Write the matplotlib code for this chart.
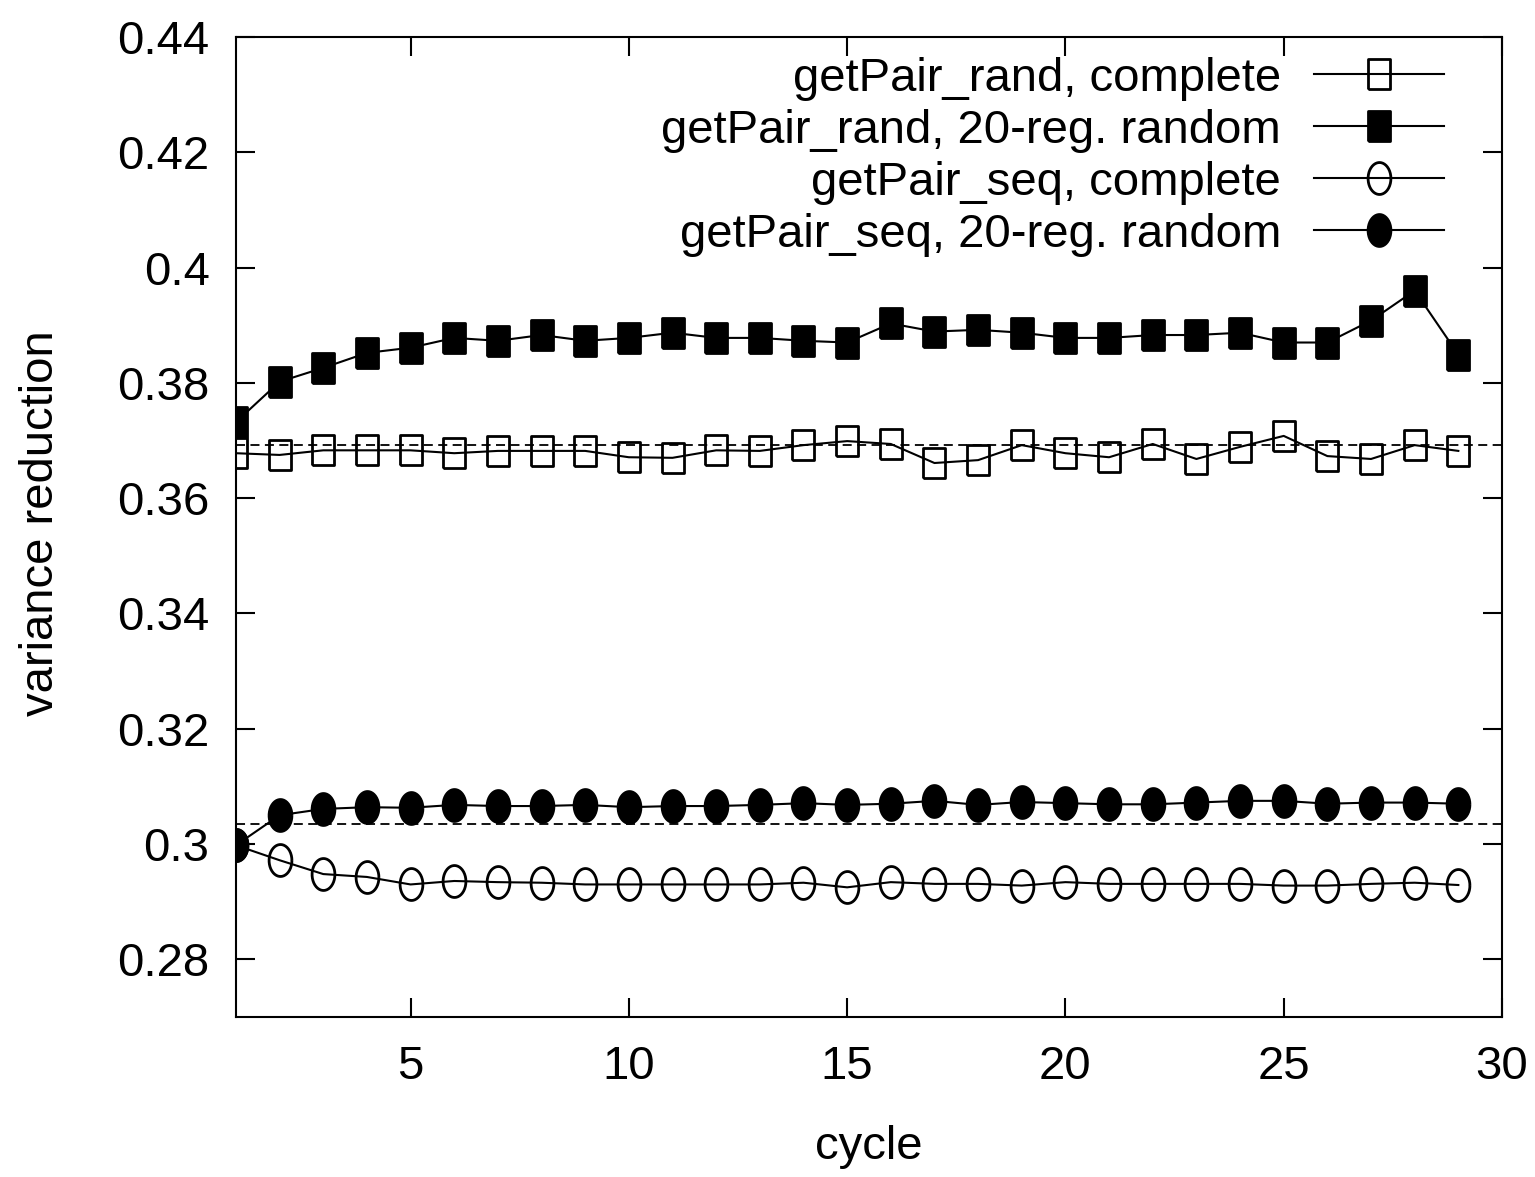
import numpy as np
import matplotlib
matplotlib.use("Agg")
import matplotlib.pyplot as plt

plt.rcParams['font.family'] = ['Liberation Sans', 'DejaVu Sans']

cycles = list(range(1, 30))

rand_complete = [0.3678, 0.3675, 0.3683, 0.3683, 0.3683, 0.3678, 0.3682, 0.3682, 0.3682, 0.3671,
                 0.3670, 0.3683, 0.3682, 0.3692, 0.3699, 0.3694, 0.3661, 0.3666, 0.3692, 0.3678,
                 0.3671, 0.3694, 0.3668, 0.3689, 0.3708, 0.3673, 0.3668, 0.3692, 0.3682]
rand_20reg = [0.3732, 0.3802, 0.3826, 0.3852, 0.3861, 0.3878, 0.3873, 0.3883, 0.3873, 0.3878,
              0.3887, 0.3878, 0.3878, 0.3873, 0.3870, 0.3903, 0.3889, 0.3892, 0.3887, 0.3878,
              0.3878, 0.3883, 0.3883, 0.3887, 0.3870, 0.3870, 0.3908, 0.3960, 0.3849]
seq_complete = [0.2998, 0.2972, 0.2948, 0.2943, 0.2930, 0.2936, 0.2934, 0.2933, 0.2930, 0.2930,
                0.2930, 0.2930, 0.2930, 0.2933, 0.2925, 0.2934, 0.2931, 0.2931, 0.2928, 0.2934,
                0.2931, 0.2931, 0.2931, 0.2931, 0.2928, 0.2928, 0.2931, 0.2933, 0.2929]
seq_20reg = [0.2998, 0.3050, 0.3061, 0.3064, 0.3063, 0.3068, 0.3066, 0.3066, 0.3068, 0.3064,
             0.3066, 0.3066, 0.3068, 0.3071, 0.3068, 0.3070, 0.3075, 0.3068, 0.3073, 0.3071,
             0.3069, 0.3069, 0.3072, 0.3075, 0.3075, 0.3070, 0.3072, 0.3072, 0.3070]

# reference levels (dashed)
ref_complete = 0.3692
ref_20reg = 0.3035

labels = ['getPair_rand, complete', 'getPair_rand, 20-reg. random',
          'getPair_seq, complete', 'getPair_seq, 20-reg. random']

# markers are a bit taller than wide in the original
sq = [(-1, -1.35), (1, -1.35), (1, 1.35), (-1, 1.35), (-1, -1.35)]
t = np.linspace(0, 2 * np.pi, 40)
ell = list(zip(np.cos(t), 1.4 * np.sin(t)))

fs = 34

fig = plt.figure(figsize=(15.35, 11.77), dpi=100)
ax = fig.add_axes([0.1537, 0.1359, 0.8248, 0.8327])

ax.axhline(ref_complete, color='black', lw=1.3, ls=(0, (5, 3)), zorder=1)
ax.axhline(ref_20reg, color='black', lw=1.3, ls=(0, (5, 3)), zorder=1)

mew = 2
ax.plot(cycles, rand_complete, color='black', lw=1.5, marker=sq, ms=22,
        mfc='none', mec='black', mew=mew, label=labels[0])
ax.plot(cycles, rand_20reg, color='black', lw=1.5, marker=sq, ms=22,
        mfc='black', mec='black', mew=mew, label=labels[1])
ax.plot(cycles, seq_complete, color='black', lw=1.5, marker=ell, ms=23,
        mfc='none', mec='black', mew=mew, label=labels[2])
ax.plot(cycles, seq_20reg, color='black', lw=1.5, marker=ell, ms=23,
        mfc='black', mec='black', mew=mew, label=labels[3])

ax.set_xlim(1, 30)
ax.set_ylim(0.27, 0.44)
ax.set_xticks([5, 10, 15, 20, 25, 30])
ax.set_yticks([0.28, 0.30, 0.32, 0.34, 0.36, 0.38, 0.40, 0.42, 0.44])
ax.set_yticklabels(['0.28', '0.3', '0.32', '0.34', '0.36', '0.38', '0.4', '0.42', '0.44'])
ax.tick_params(direction='in', length=14, width=1.5, labelsize=fs, top=True, right=True)
ax.tick_params(axis='y', pad=19)
ax.tick_params(axis='x', pad=20)
for s in ax.spines.values():
    s.set_linewidth(1.5)

ax.set_xlabel('cycle', fontsize=fs)
ax.set_ylabel('variance reduction', fontsize=fs)
ax.xaxis.set_label_coords(0.5, -0.1327)
ax.yaxis.set_label_coords(-0.154, 0.504)
ax.xaxis.label.set_va('center')
ax.yaxis.label.set_va('center')

ax.legend(loc='upper right', fontsize=fs, frameon=False, markerfirst=False,
          handlelength=2.75, labelspacing=0.17, borderaxespad=0.0, handletextpad=0.7,
          bbox_to_anchor=(0.969, 0.999))

fig.savefig('out.png', dpi=100)
